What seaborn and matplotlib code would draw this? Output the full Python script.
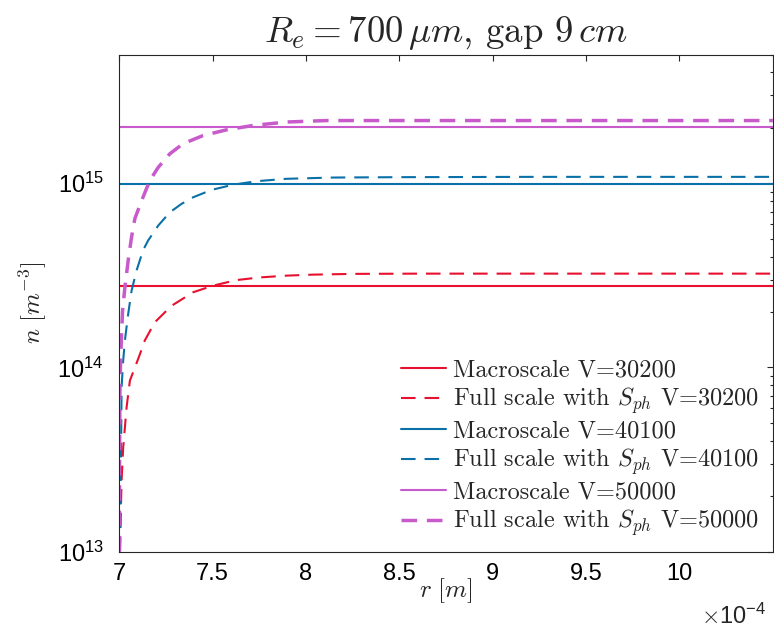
import numpy as np
import pandas as pd
import matplotlib
matplotlib.use('Agg')
import matplotlib.pyplot as plt
import seaborn as sns
from matplotlib.ticker import FixedLocator, FuncFormatter, LogLocator

# valeurs (r en 1e-4 m, n en m^-3)
r_macro = [7.0, 10.5]
n_macro_30200 = [2.78e14, 2.78e14]
n_macro_40100 = [0.99e15, 0.99e15]
n_macro_50000 = [2.03e15, 2.03e15]

r_full_30200 = [7.0037, 7.0075, 7.0128, 7.0214, 7.0396, 7.0572, 7.111, 7.137, 7.191,
                7.280, 7.396, 7.503, 7.628, 7.752, 7.895, 8.037, 8.251, 8.6, 9.2, 10.5]
n_full_30200 = [1.01e13, 1.47e13, 2.42e13, 3.67e13, 6.07e13, 8.47e13, 1.18e14, 1.40e14, 1.76e14,
                2.16e14, 2.56e14, 2.78e14, 2.98e14, 3.08e14, 3.15e14, 3.19e14, 3.22e14, 3.23e14, 3.23e14, 3.23e14]

r_full_40100 = [7.005, 7.009, 7.0128, 7.0214, 7.0305, 7.0481, 7.0663, 7.093, 7.128, 7.155,
                7.191, 7.209, 7.271, 7.334, 7.396, 7.494, 7.610, 7.735, 7.895, 8.144, 8.501, 9.2, 10.5]
n_full_40100 = [1.0e13, 2.75e13, 7.8e13, 1.09e14, 1.40e14, 1.95e14, 2.61e14, 3.36e14, 4.33e14, 4.89e14,
                5.53e14, 5.89e14, 6.95e14, 7.73e14, 8.39e14, 9.20e14, 9.82e14, 1.026e15, 1.057e15,
                1.074e15, 1.079e15, 1.083e15, 1.083e15]

r_full_50000 = [7.0005, 7.0020, 7.0037, 7.0075, 7.0128, 7.018, 7.0305, 7.048, 7.066, 7.084, 7.120,
                7.164, 7.209, 7.271, 7.342, 7.449, 7.574, 7.717, 7.895, 8.109, 8.6, 10.5]
n_full_50000 = [1.0e13, 3.0e13, 7.2e13, 1.09e14, 1.52e14, 2.03e14, 2.72e14, 3.80e14, 5.09e14, 6.43e14, 8.05e14,
                1.035e15, 1.22e15, 1.445e15, 1.64e15, 1.815e15, 1.95e15, 2.06e15, 2.15e15, 2.19e15, 2.19e15, 2.19e15]

labels = ['Macroscale V=30200',
          'Full scale with $S_{ph}$ V=30200',
          'Macroscale V=40100',
          'Full scale with $S_{ph}$ V=40100',
          'Macroscale V=50000',
          'Full scale with $S_{ph}$ V=50000']

c_red = '#E8102F'
c_blue = '#0A70A8'
c_purple = '#C85ACB'

sns.set_style('white')
plt.rcParams['font.family'] = ['Liberation Sans', 'DejaVu Sans']
plt.rcParams['mathtext.fontset'] = 'cm'

fig = plt.figure(figsize=(7.74, 6.34), dpi=100)
ax = fig.add_axes([0.154, 0.130, 0.8445, 0.784])

dash = (0, (7.0, 4.3))
series = [
    (r_macro, n_macro_30200, c_red, '-', 1.5, labels[0]),
    (r_full_30200, n_full_30200, c_red, dash, 1.5, labels[1]),
    (r_macro, n_macro_40100, c_blue, '-', 1.5, labels[2]),
    (r_full_40100, n_full_40100, c_blue, dash, 1.5, labels[3]),
    (r_macro, n_macro_50000, c_purple, '-', 1.5, labels[4]),
    (r_full_50000, n_full_50000, c_purple, (0, (4.5, 2.8)), 2.5, labels[5]),
]
for r, n, col, ls, lw, lab in series:
    sns.lineplot(x=np.array(r) * 1e-4, y=n, color=col, linestyle=ls, linewidth=lw,
                 label=lab, ax=ax, sort=False, estimator=None)

ax.set_yscale('log')
ax.set_xlim(7e-4, 10.5e-4)
ax.set_ylim(1e13, 5e15)

ax.xaxis.set_major_locator(FixedLocator(np.arange(7, 10.01, 0.5) * 1e-4))
ax.xaxis.set_major_formatter(FuncFormatter(lambda v, p: '%g' % round(v * 1e4, 3)))
ax.yaxis.set_major_locator(LogLocator(base=10, numticks=10))
ax.yaxis.set_minor_locator(LogLocator(base=10, subs=np.arange(2, 10), numticks=10))

for s in ax.spines.values():
    s.set_visible(True)
    s.set_color('#262626')
    s.set_linewidth(0.8)
ax.tick_params(which='both', direction='in', top=True, right=True, colors='#262626',
               width=0.8, labelsize=17, labelcolor='black')
ax.tick_params(which='major', length=4.5, pad=8)
ax.tick_params(axis='y', which='major', pad=11)
ax.tick_params(which='minor', length=2.5)
ax.tick_params(axis='x', which='minor', bottom=False, top=False)

ax.text(0.99, -0.105, r'$\times\mathdefault{10^{-4}}$', transform=ax.transAxes,
        ha='right', va='top', fontsize=17)

ax.set_title(r'$R_e = 700\,\mu m$, gap $9\,cm$', fontsize=26.5, pad=9, fontfamily='cmr10')
ax.set_xlabel(r'$r\ [m]$', fontsize=18, labelpad=-6)
ax.set_ylabel(r'$n\ [m^{-3}]$', fontsize=18, labelpad=6)

leg = ax.legend(loc='lower right', frameon=False, handlelength=1.85,
                handletextpad=0.3, labelspacing=0.17, borderaxespad=0.15,
                prop={'family': 'cmr10', 'size': 17.5})

plt.savefig('out.png', dpi=100)
